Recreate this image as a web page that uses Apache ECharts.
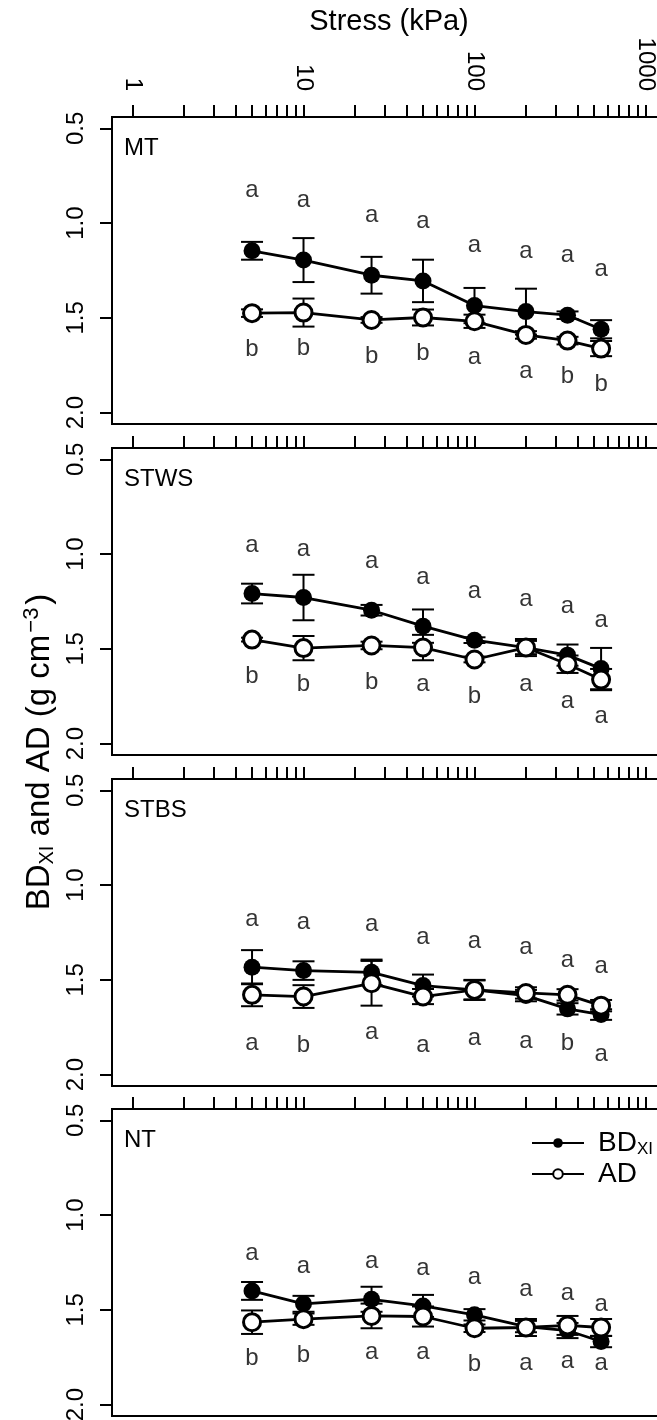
<!DOCTYPE html>
<html><head><meta charset="utf-8">
<script src="https://cdn.jsdelivr.net/npm/echarts@6/dist/echarts.min.js"></script>
<style>html,body{margin:0;padding:0;background:#fff}#c{width:657px;height:1420px}</style>
</head><body><div id="c"></div>
<script>
// ---- data ----
const stress = [5, 10, 25, 50, 100, 200, 350, 550];
const panelNames = ['MT', 'STWS', 'STBS', 'NT'];
const xTickLabels = [1, 10, 100, 1000];
const yTickValues = [0.5, 1.0, 1.5, 2.0];

const MT_BD = [1.146, 1.195, 1.275, 1.305, 1.435, 1.467, 1.486, 1.560];
const MT_BD_err = [0.047, 0.116, 0.097, 0.112, 0.093, 0.121, 0.020, 0.048];
const MT_AD = [1.475, 1.472, 1.511, 1.498, 1.518, 1.590, 1.620, 1.662];
const MT_AD_err = [0.020, 0.074, 0.015, 0.042, 0.035, 0.020, 0.020, 0.040];
const MT_top = ['a', 'a', 'a', 'a', 'a', 'a', 'a', 'a'];
const MT_bot = ['b', 'b', 'b', 'b', 'a', 'a', 'b', 'b'];

const STWS_BD = [1.208, 1.229, 1.296, 1.380, 1.454, 1.493, 1.533, 1.604];
const STWS_BD_err = [0.052, 0.120, 0.028, 0.088, 0.015, 0.035, 0.056, 0.109];
const STWS_AD = [1.451, 1.496, 1.482, 1.493, 1.556, 1.493, 1.581, 1.662];
const STWS_AD_err = [0.010, 0.064, 0.020, 0.067, 0.015, 0.045, 0.046, 0.056];
const STWS_top = ['a', 'a', 'a', 'a', 'a', 'a', 'a', 'a'];
const STWS_bot = ['b', 'b', 'b', 'a', 'b', 'a', 'a', 'a'];

const STBS_BD = [1.433, 1.451, 1.460, 1.530, 1.553, 1.583, 1.653, 1.683];
const STBS_BD_err = [0.090, 0.049, 0.067, 0.058, 0.053, 0.030, 0.030, 0.028];
const STBS_AD = [1.579, 1.588, 1.518, 1.588, 1.553, 1.569, 1.579, 1.636];
const STBS_AD_err = [0.060, 0.060, 0.118, 0.040, 0.050, 0.030, 0.030, 0.030];
const STBS_top = ['a', 'a', 'a', 'a', 'a', 'a', 'a', 'a'];
const STBS_bot = ['a', 'b', 'a', 'a', 'a', 'a', 'b', 'a'];

const NT_BD = [1.400, 1.468, 1.444, 1.479, 1.526, 1.588, 1.609, 1.667];
const NT_BD_err = [0.047, 0.042, 0.066, 0.058, 0.030, 0.030, 0.040, 0.030];
const NT_AD = [1.565, 1.549, 1.532, 1.535, 1.597, 1.593, 1.582, 1.593];
const NT_AD_err = [0.062, 0.030, 0.065, 0.053, 0.020, 0.045, 0.050, 0.045];
const NT_top = ['a', 'a', 'a', 'a', 'a', 'a', 'a', 'a'];
const NT_bot = ['b', 'b', 'a', 'a', 'b', 'a', 'a', 'a'];

// ---- layout ----
const FONT = 'Liberation Sans, Arial, sans-serif';
const panels = [
  {bd: MT_BD, bdE: MT_BD_err, ad: MT_AD, adE: MT_AD_err, top: MT_top, bot: MT_bot, tOff: 0.306, bOff: 0.201},
  {bd: STWS_BD, bdE: STWS_BD_err, ad: STWS_AD, adE: STWS_AD_err, top: STWS_top, bot: STWS_bot, tOff: 0.245, bOff: 0.204},
  {bd: STBS_BD, bdE: STBS_BD_err, ad: STBS_AD, adE: STBS_AD_err, top: STBS_top, bot: STBS_bot, tOff: 0.243, bOff: 0.268},
  {bd: NT_BD, bdE: NT_BD_err, ad: NT_AD, adE: NT_AD_err, top: NT_top, bot: NT_bot, tOff: 0.187, bOff: 0.202}
];
const gridTops = [117, 448, 779, 1109];
const gridH = 307;

const minorTicks = [];
for (let d = 0; d < 3; d++) for (let m = 1; m < 10; m++) minorTicks.push(Math.log10(m * Math.pow(10, d)));
minorTicks.push(3);
const lx = stress.map(s => Math.log10(s));

function errItem(params, api) {
  const x = api.value(0), y = api.value(1), e = api.value(2);
  const p1 = api.coord([x, y - e]), p2 = api.coord([x, y + e]);
  const w = 11;
  const st = {stroke: '#000', lineWidth: 2};
  return {type: 'group', children: [
    {type: 'line', shape: {x1: p1[0], y1: p1[1], x2: p2[0], y2: p2[1]}, style: st},
    {type: 'line', shape: {x1: p1[0] - w, y1: p1[1], x2: p1[0] + w, y2: p1[1]}, style: st},
    {type: 'line', shape: {x1: p2[0] - w, y1: p2[1], x2: p2[0] + w, y2: p2[1]}, style: st}
  ]};
}

const grid = [], xAxis = [], yAxis = [], series = [], graphic = [];
panels.forEach((p, i) => {
  grid.push({left: 112, width: 554, top: gridTops[i], height: gridH, show: true,
    outerBoundsMode: 'none', containLabel: false,
    borderColor: '#000', borderWidth: 2, backgroundColor: 'transparent'});
  xAxis.push({gridIndex: i, type: 'value', position: 'top', min: -0.12, max: 3.12,
    axisLine: {show: false, onZero: false}, splitLine: {show: false},
    axisTick: {show: true, inside: false, length: 12, customValues: minorTicks, lineStyle: {color: '#000', width: 2}},
    axisLabel: {show: i === 0, customValues: xTickLabels.map(v => Math.log10(v)), rotate: 90,
      formatter: v => String(Math.round(Math.pow(10, v))), fontSize: 24, color: '#000', margin: 26, fontFamily: FONT}});
  yAxis.push({gridIndex: i, type: 'value', position: 'left', inverse: true, min: 0.44, max: 2.06,
    axisLine: {show: false, onZero: false}, splitLine: {show: false},
    axisTick: {show: true, inside: false, length: 12, customValues: yTickValues, lineStyle: {color: '#000', width: 2}},
    axisLabel: {show: true, customValues: yTickValues, rotate: 90, formatter: v => v.toFixed(1),
      fontSize: 24, color: '#000', margin: 24, fontFamily: FONT}});
  series.push({type: 'custom', xAxisIndex: i, yAxisIndex: i, renderItem: errItem, z: 1, silent: true,
    data: lx.map((x, j) => [x, p.bd[j], p.bdE[j]])});
  series.push({type: 'custom', xAxisIndex: i, yAxisIndex: i, renderItem: errItem, z: 1, silent: true,
    data: lx.map((x, j) => [x, p.ad[j], p.adE[j]])});
  series.push({type: 'line', name: 'BD', xAxisIndex: i, yAxisIndex: i, z: 3,
    data: lx.map((x, j) => [x, p.bd[j]]), symbol: 'circle', symbolSize: 17, showAllSymbol: true,
    itemStyle: {color: '#000'}, lineStyle: {color: '#000', width: 2.8}});
  series.push({type: 'line', name: 'AD', xAxisIndex: i, yAxisIndex: i, z: 4,
    data: lx.map((x, j) => [x, p.ad[j]]), symbol: 'circle', symbolSize: 17, showAllSymbol: true,
    itemStyle: {color: '#fff', borderColor: '#000', borderWidth: 3}, lineStyle: {color: '#000', width: 2.8}});
  series.push({type: 'scatter', xAxisIndex: i, yAxisIndex: i, z: 5, silent: true, symbolSize: 1,
    itemStyle: {color: 'rgba(0,0,0,0)'},
    data: lx.map((x, j) => [x, p.bd[j] - p.tOff]),
    label: {show: true, position: 'inside', offset: [0, -2], formatter: q => p.top[q.dataIndex],
      fontSize: 24, color: '#000', fontFamily: FONT}});
  series.push({type: 'scatter', xAxisIndex: i, yAxisIndex: i, z: 5, silent: true, symbolSize: 1,
    itemStyle: {color: 'rgba(0,0,0,0)'},
    data: lx.map((x, j) => [x, p.ad[j] + p.bOff]),
    label: {show: true, position: 'inside', offset: [0, -2], formatter: q => p.bot[q.dataIndex],
      fontSize: 24, color: '#000', fontFamily: FONT}});
  graphic.push({type: 'text', x: 124, y: gridTops[i] + 31,
    style: {text: panelNames[i], fill: '#000', font: '24px ' + FONT, align: 'left', verticalAlign: 'middle'}});
});

graphic.push({type: 'text', x: 389, y: 22,
  style: {text: 'Stress (kPa)', fill: '#000', font: '29px ' + FONT, align: 'center', verticalAlign: 'middle'}});
graphic.push({type: 'text', x: 40, y: 752, rotation: Math.PI / 2,
  style: {text: '{m|BD}{s|XI}{m| and AD (g cm}{u|−3}{m|)}', fill: '#000', align: 'center', verticalAlign: 'middle',
    rich: {m: {fontSize: 33, fontFamily: FONT, fill: '#000'},
           s: {fontSize: 20, fontFamily: FONT, fill: '#000', padding: [14, 0, 0, 0]},
           u: {fontSize: 22, fontFamily: FONT, fill: '#000', padding: [0, 3, 16, 2]}}}});

const chart = echarts.init(document.getElementById('c'), null, {renderer: 'canvas'});
chart.setOption({
  animation: false,
  grid, xAxis, yAxis, series, graphic,
  legend: {data: ['BD', 'AD'], orient: 'vertical', left: 526, top: 1124, itemWidth: 52, itemHeight: 12, itemGap: 2,
    selectedMode: false,
    formatter: n => n === 'BD' ? '{m|BD}{s|XI}' : '{m|AD}',
    textStyle: {color: '#000', fontFamily: FONT, fontSize: 28,
      rich: {m: {fontSize: 28, fontFamily: FONT, padding: [0, 0, 0, 9]},
             s: {fontSize: 17, fontFamily: FONT, padding: [13, 0, 0, 0]}}}}
});
</script></body></html>
